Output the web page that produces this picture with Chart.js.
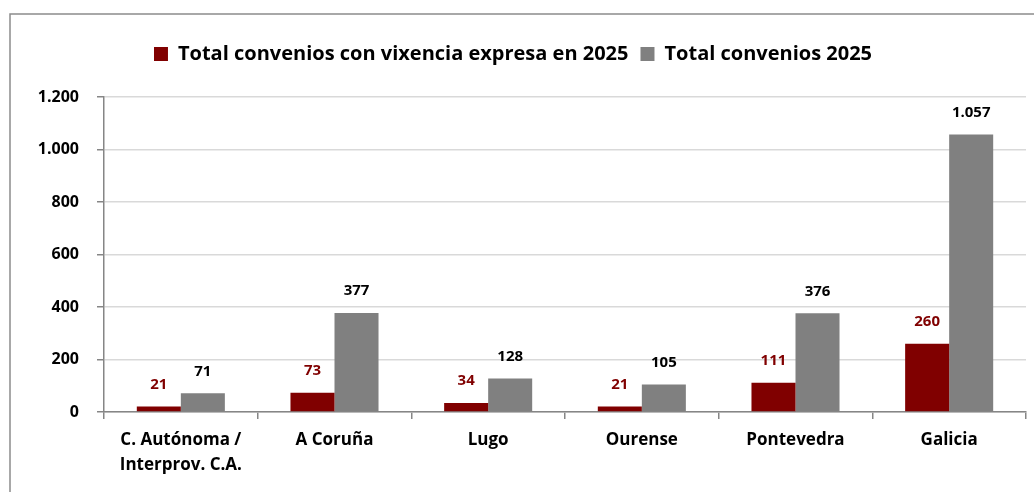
<!DOCTYPE html>
<html>
<head>
<meta charset="utf-8">
<script src="https://cdn.jsdelivr.net/npm/chart.js@4"></script>
<style>
  html, body { margin: 0; padding: 0; background: #fff; }
  #wrap { width: 1034px; height: 492px; position: relative; }
</style>
</head>
<body>
<div id="wrap"><canvas id="chart"></canvas></div>
<script>
const categories = [['C. Autónoma /', 'Interprov. C.A.'], 'A Coruña', 'Lugo', 'Ourense', 'Pontevedra', 'Galicia'];
const vixenciaExpresa = [21, 73, 34, 21, 111, 260];
const totalConvenios = [71, 377, 128, 105, 376, 1057];
const yTicks = [0, 200, 400, 600, 800, 1000, 1200];

const FONT = '"Open Sans", Lato, sans-serif';
const fmt = v => String(v).replace(/\B(?=(\d{3})+(?!\d))/g, '.');

// outer frame, cut off on the right and bottom like the source
const frame = {
  id: 'frame',
  beforeDraw: (chart) => {
    const { ctx } = chart;
    ctx.save();
    ctx.fillStyle = '#fff';
    ctx.fillRect(0, 0, chart.width, chart.height);
    ctx.strokeStyle = '#8c8c8c';
    ctx.lineWidth = 1.5;
    ctx.strokeRect(10, 14, 1200, 700);
    ctx.restore();
  }
};

// extra gap under the legend
const legendGap = {
  id: 'legendGap',
  afterInit: (chart) => {
    const fit = chart.legend.fit;
    chart.legend.fit = function () {
      fit.bind(chart.legend)();
      this.height += 23;
    };
  }
};

// value labels above each bar
const valueLabels = {
  id: 'valueLabels',
  afterDatasetsDraw: (chart) => {
    const { ctx } = chart;
    ctx.save();
    ctx.font = 'bold 15px ' + FONT;
    ctx.textAlign = 'center';
    ctx.textBaseline = 'middle';
    chart.data.datasets.forEach((ds, i) => {
      chart.getDatasetMeta(i).data.forEach((bar, j) => {
        ctx.fillStyle = ds.labelColor;
        ctx.fillText(fmt(ds.data[j]), bar.x, bar.y - 22);
      });
    });
    ctx.restore();
  }
};

new Chart(document.getElementById('chart'), {
  type: 'bar',
  data: {
    labels: categories,
    datasets: [{
      label: 'Total convenios con vixencia expresa en 2025',
      data: vixenciaExpresa,
      backgroundColor: '#800000',
      labelColor: '#800000',
      categoryPercentage: 0.573,
      barPercentage: 1
    }, {
      label: 'Total convenios 2025',
      data: totalConvenios,
      backgroundColor: '#808080',
      labelColor: '#000',
      categoryPercentage: 0.573,
      barPercentage: 1
    }]
  },
  options: {
    responsive: true,
    maintainAspectRatio: false,
    animation: false,
    layout: { padding: { top: 32, right: 8, left: 0, bottom: 0 } },
    plugins: {
      tooltip: { enabled: false },
      legend: {
        position: 'top',
        labels: {
          color: '#000',
          font: { family: FONT, size: 20, weight: 'bold' },
          boxWidth: 14,
          boxHeight: 14,
          padding: 12
        }
      }
    },
    scales: {
      x: {
        afterFit: s => { s.height = 80; },
        border: { color: '#868686', width: 1.5 },
        grid: { drawOnChartArea: false, drawTicks: true, offset: true, tickLength: 7, tickColor: '#868686', lineWidth: 1.5 },
        ticks: { color: '#000', font: { family: FONT, size: 17, weight: 'bold', lineHeight: 1.5 }, padding: 8, maxRotation: 0 }
      },
      y: {
        min: 0,
        max: 1200,
        afterFit: s => { s.width = 104; },
        afterBuildTicks: s => { s.ticks = yTicks.map(v => ({ value: v })); },
        border: { color: '#868686', width: 1.5 },
        grid: { color: '#d9d9d9', lineWidth: 1.5, tickLength: 7, tickColor: '#868686' },
        ticks: { color: '#000', font: { family: FONT, size: 16, weight: 'bold' }, padding: 18, callback: v => fmt(v) }
      }
    }
  },
  plugins: [frame, legendGap, valueLabels]
});
</script>
</body>
</html>
